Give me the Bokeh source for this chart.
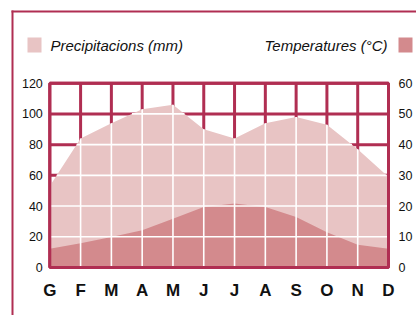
import numpy as np
from bokeh.plotting import figure
from bokeh.models import Range1d, LinearAxis, FixedTicker, BoxAnnotation, Label
from bokeh.embed import file_html
from bokeh.resources import INLINE

months = ["G", "F", "M", "A", "M", "J", "J", "A", "S", "O", "N", "D"]
precip = [53, 84, 94, 103, 106, 90, 84, 94, 98, 93, 77, 59]
temp = [6.1, 7.9, 9.9, 12.1, 15.9, 19.7, 20.8, 19.7, 16.4, 11.5, 7.4, 6.1]
left_ticks = [0, 20, 40, 60, 80, 100, 120]
right_ticks = [0, 10, 20, 30, 40, 50, 60]

CRIMSON = "#b02e52"
PRECIP_C = "#e8c4c4"
TEMP_C = "#d38a8d"
FONT = "Liberation Sans"

W, H = 416, 315
# pixel layout of the inner chart box
BOX_L, BOX_R, BOX_T, BOX_B = 49.3, 388.0, 82.7, 267.0

xs = np.arange(len(months), dtype=float)
n = len(months) - 1
ymax = left_ticks[-1]
sx = (BOX_R - BOX_L) / n
sy = (BOX_B - BOX_T) / ymax


def px_x(px):
    return (px - BOX_L) / sx


def px_y(py):
    return (BOX_B - py) / sy


p = figure(width=W, height=H,
           x_range=Range1d(px_x(0), px_x(W)), y_range=Range1d(px_y(H), px_y(0)),
           output_backend="svg", toolbar_location=None,
           min_border=0, min_border_left=0, min_border_right=0,
           min_border_top=0, min_border_bottom=0)
p.extra_y_ranges = {"t": Range1d(px_y(H) / 2, px_y(0) / 2)}
p.background_fill_color = "white"
p.border_fill_color = "white"
p.outline_line_color = None
p.xgrid.visible = False
p.ygrid.visible = False

# crimson grid underneath the areas
p.segment(x0=[xs[0]] * len(left_ticks), x1=[xs[-1]] * len(left_ticks),
          y0=left_ticks, y1=left_ticks, line_color=CRIMSON, line_width=3)
p.segment(x0=xs, x1=xs, y0=[0] * len(xs), y1=[ymax] * len(xs),
          line_color=CRIMSON, line_width=3)

p.varea(x=xs, y1=0, y2=precip, fill_color=PRECIP_C)
p.varea(x=xs, y1=0, y2=temp, fill_color=TEMP_C, y_range_name="t")

# white grid lines inside the precipitation area
ps = np.asarray(precip, dtype=float)
x0, y0, x1, y1 = [], [], [], []
for lvl in left_ticks[1:-1]:
    brk = [xs[0]]
    for i in range(len(ps) - 1):
        a, b = ps[i] - lvl, ps[i + 1] - lvl
        if a * b < 0:
            brk.append(i + a / (a - b))
    brk.append(xs[-1])
    for s, e in zip(brk[:-1], brk[1:]):
        if np.interp((s + e) / 2, xs, ps) > lvl:
            x0.append(s); x1.append(e); y0.append(lvl); y1.append(lvl)
for i in range(1, len(months) - 1):
    x0.append(xs[i]); x1.append(xs[i]); y0.append(0); y1.append(ps[i])
p.segment(x0=x0, y0=y0, x1=x1, y1=y1, line_color="white", line_width=1.6)

# chart box outline
p.quad(left=[xs[0]], right=[xs[-1]], bottom=[0], top=[ymax],
       fill_color=None, line_color=CRIMSON, line_width=3)

# axes placed at the chart box edges
p.xaxis.fixed_location = 0
p.xaxis.ticker = FixedTicker(ticks=list(range(len(months))))
p.xaxis.major_label_overrides = {i: m for i, m in enumerate(months)}
p.xaxis.major_label_text_font = FONT
p.xaxis.major_label_text_font_style = "bold"
p.xaxis.major_label_text_font_size = "17px"
p.xaxis.major_label_text_color = "#111111"
p.xaxis.major_label_standoff = 13

p.yaxis.fixed_location = 0
p.yaxis.ticker = FixedTicker(ticks=left_ticks)
p.yaxis.major_label_standoff = 7

right = LinearAxis(y_range_name="t", ticker=FixedTicker(ticks=right_ticks))
right.fixed_location = n
right.major_label_standoff = 10
p.add_layout(right, "right")

for ax in [p.xaxis[0], p.yaxis[0], right]:
    ax.axis_line_color = None
    ax.major_tick_line_color = None
    ax.minor_tick_line_color = None
    ax.major_tick_out = 0
    ax.major_tick_in = 0
for ax in [p.yaxis[0], right]:
    ax.major_label_text_font = FONT
    ax.major_label_text_font_size = "12.5px"
    ax.major_label_text_color = "#111111"
    ax.major_label_text_baseline = "alphabetic"

# outer frame lines
p.add_layout(BoxAnnotation(left=px_x(11), right=px_x(13), top=px_y(10), bottom=px_y(H + 10),
                           fill_color=CRIMSON, fill_alpha=1, line_color=None))
p.add_layout(BoxAnnotation(left=px_x(11), right=px_x(W + 10), top=px_y(10), bottom=px_y(12),
                           fill_color=CRIMSON, fill_alpha=1, line_color=None))

# legend
p.add_layout(BoxAnnotation(left=px_x(27), right=px_x(41), top=px_y(37), bottom=px_y(52),
                           fill_color=PRECIP_C, fill_alpha=1, line_color=None))
p.add_layout(BoxAnnotation(left=px_x(398), right=px_x(412), top=px_y(37), bottom=px_y(52),
                           fill_color=TEMP_C, fill_alpha=1, line_color=None))
p.add_layout(Label(x=px_x(50), y=px_y(44.5),
                   text="Precipitacions (mm)", text_font=FONT, text_font_style="italic",
                   text_font_size="15px", text_baseline="middle", text_align="left",
                   text_color="#111111"))
p.add_layout(Label(x=px_x(387), y=px_y(44.5),
                   text="Temperatures (°C)", text_font=FONT, text_font_style="italic",
                   text_font_size="15px", text_baseline="middle", text_align="right",
                   text_color="#111111"))

open("out.html", "w").write(file_html(p, INLINE))
